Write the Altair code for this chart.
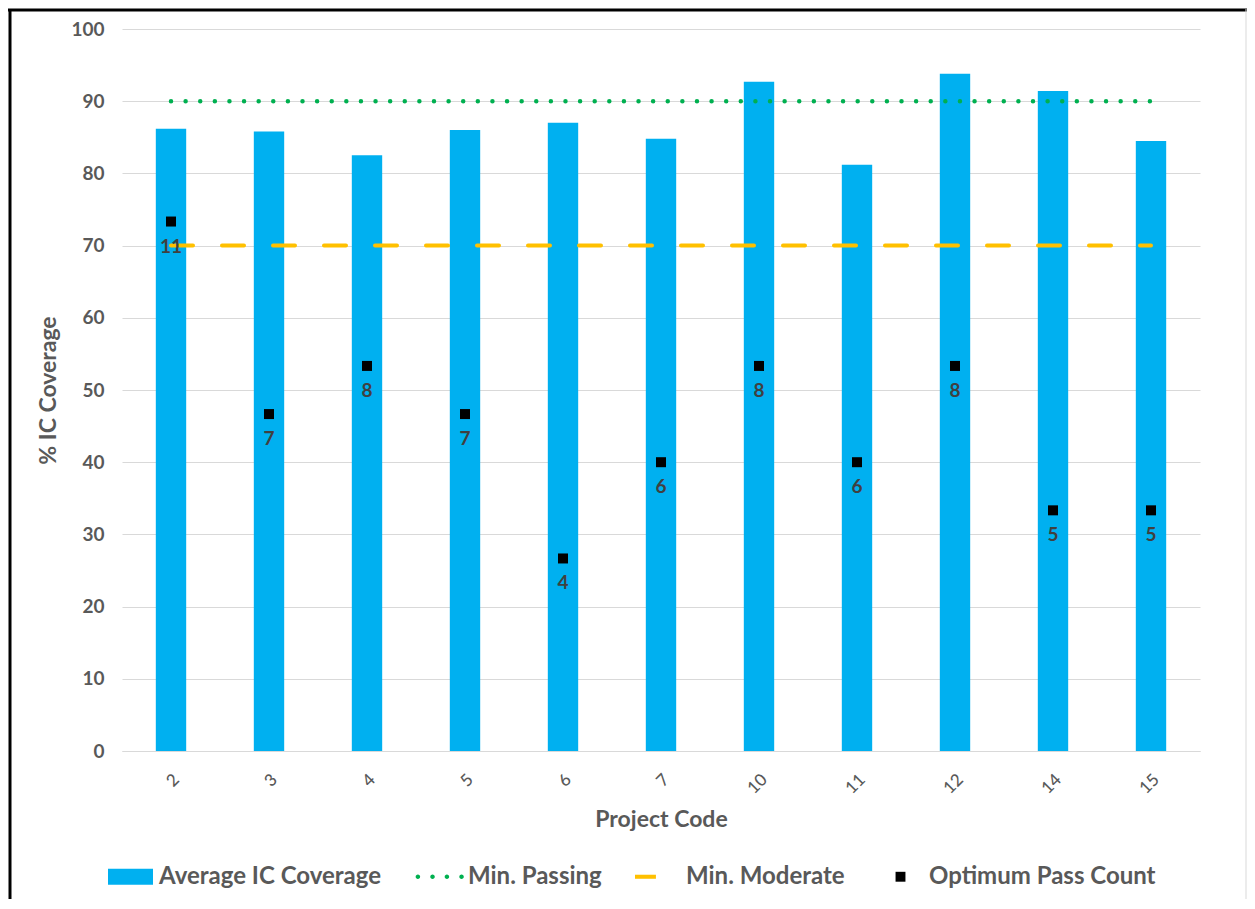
import altair as alt
import pandas as pd

projects = ["2", "3", "4", "5", "6", "7", "10", "11", "12", "14", "15"]
coverage = [86.2, 85.8, 82.5, 86.0, 87.0, 84.8, 92.7, 81.2, 93.8, 91.4, 84.5]
pass_count = [11, 7, 8, 7, 4, 6, 8, 6, 8, 5, 5]
max_pass = 15
min_passing = [90] * len(projects)
min_moderate = [70] * len(projects)

series_names = ["Average IC Coverage", "Min. Passing", "Min. Moderate", "Optimum Pass Count"]
series_colors = ["#00B0F0", "#00B050", "#FFC000", "#000000"]

FONT = "Lato"
GREY = "#595959"

df = pd.DataFrame({
    "project": projects,
    "coverage": coverage,
    "count": pass_count,
    "pass_pct": [c / max_pass * 100 for c in pass_count],
    "min_passing": min_passing,
    "min_moderate": min_moderate,
})

x_enc = alt.X(
    "project:N", sort=projects, title="Project Code",
    scale=alt.Scale(paddingInner=0.69, paddingOuter=0.345),
    axis=alt.Axis(labelAngle=-45, labelFont=FONT, labelFontSize=17, labelColor=GREY,
                  labelFontWeight=500, labelPadding=20, ticks=False,
                  domainColor="#D9D9D9", domainWidth=1,
                  titleFont=FONT, titleFontSize=23, titleFontWeight="bold", titleColor=GREY,
                  titlePadding=12, grid=False),
)
y_scale = alt.Scale(domain=[0, 100], nice=False)
y_axis = alt.Axis(values=list(range(0, 101, 10)), labelFont=FONT, labelFontSize=19,
                  labelFontWeight="bold", labelColor=GREY, labelPadding=18, ticks=False,
                  domain=False, gridColor="#D9D9D9", gridWidth=1,
                  titleFont=FONT, titleFontSize=23, titleFontWeight="bold", titleColor=GREY,
                  titlePadding=10)

base = alt.Chart(df)

bars = base.mark_bar(color="#00B0F0").encode(
    x=x_enc,
    y=alt.Y("coverage:Q", scale=y_scale, axis=y_axis, title="% IC Coverage"),
)

passing = base.mark_line(color="#00B050", strokeWidth=4.5, strokeCap="round",
                         strokeDash=[0.01, 14.6]).encode(
    x=alt.X("project:N", sort=projects), y=alt.Y("min_passing:Q"))

moderate = base.mark_line(color="#FFC000", strokeWidth=4, strokeCap="round",
                          strokeDash=[22, 29]).encode(
    x=alt.X("project:N", sort=projects), y=alt.Y("min_moderate:Q"))

points = base.mark_square(color="#000000", size=100, opacity=1).encode(
    x=alt.X("project:N", sort=projects), y=alt.Y("pass_pct:Q"))

labels = base.mark_text(font=FONT, fontSize=19, fontWeight="bold", color="#404040",
                        dy=25, baseline="middle").encode(
    x=alt.X("project:N", sort=projects), y=alt.Y("pass_pct:Q"), text="count:Q")

shape_paths = [
    "M-1,-0.36H1V0.36H-1Z",
    ("M-1.06,0a0.1,0.1 0 1,0 0.2,0a0.1,0.1 0 1,0 -0.2,0Z"
     "M-0.41,0a0.1,0.1 0 1,0 0.2,0a0.1,0.1 0 1,0 -0.2,0Z"
     "M0.23,0a0.1,0.1 0 1,0 0.2,0a0.1,0.1 0 1,0 -0.2,0Z"
     "M0.88,0a0.1,0.1 0 1,0 0.2,0a0.1,0.1 0 1,0 -0.2,0Z"),
    "M-1,-0.09H-0.07V0.09H-1Z",
    "M-0.22,-0.22H0.22V0.22H-0.22Z",
]

legend_props = dict(title=None, orient="none", legendX=-14, legendY=825,
                    direction="horizontal", columns=4,
                    symbolSize=2025, symbolStrokeWidth=0,
                    labelFont=FONT, labelFontSize=24, labelFontWeight="bold",
                    labelColor=GREY, labelOffset=6, columnPadding=33,
                    labelLimit=400)

legend_df = pd.DataFrame({"series": series_names, "v": [0] * 4})
legend_layer = alt.Chart(legend_df).mark_point(filled=True, opacity=1).encode(
    x=alt.X("project:N", sort=projects),
    y=alt.Y("v:Q"),
    color=alt.Color("series:N", scale=alt.Scale(domain=series_names, range=series_colors),
                    legend=alt.Legend(**legend_props)),
    shape=alt.Shape("series:N", scale=alt.Scale(domain=series_names, range=shape_paths),
                    legend=alt.Legend(**legend_props)),
).transform_filter("false")

frame_df = pd.DataFrame({"a": [0]})
frame_top = alt.Chart(frame_df).mark_rule(color="#000000", strokeWidth=3).encode(
    x=alt.value(-114), x2=alt.value(1125), y=alt.value(-19))
frame_left = alt.Chart(frame_df).mark_rule(color="#000000", strokeWidth=3).encode(
    x=alt.value(-112), y=alt.value(-20), y2=alt.value(880))
frame_right = alt.Chart(frame_df).mark_rule(color="#D9D9D9", strokeWidth=1).encode(
    x=alt.value(1124), y=alt.value(-20), y2=alt.value(880))

chart = alt.layer(
    bars, passing, moderate, points, labels, legend_layer, frame_top, frame_left, frame_right
).properties(
    width=1078, height=722,
    autosize=alt.AutoSizeParams(type="none"),
    padding={"left": 114, "top": 21, "right": 47, "bottom": 148},
).configure(background="white").configure_view(stroke=None)

chart.save("out.html", embed_options={"renderer": "svg", "actions": False})
